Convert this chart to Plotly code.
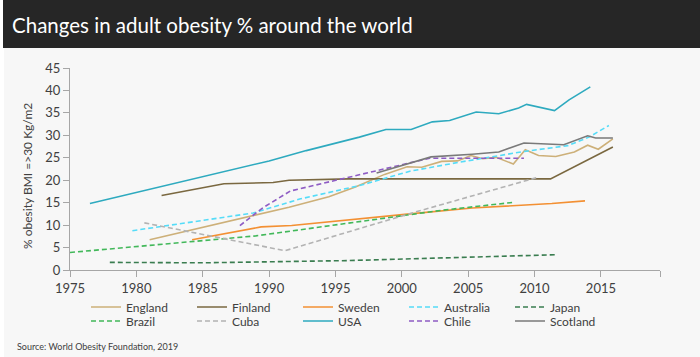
import plotly.graph_objects as go

# ---- data ----
england_x = [1981, 1991.5, 1994.5, 1996.5, 1998.7, 2000.4, 2001.5, 2003, 2004.2, 2005.2, 2006.1, 2007.1, 2008.4, 2009.3, 2010.3, 2011.6, 2013, 2014, 2014.8, 2015.9]
england_y = [6.75, 14.0, 16.3, 18.5, 21.3, 23.0, 22.9, 24.2, 24.3, 25.5, 24.8, 25.1, 23.6, 26.8, 25.5, 25.3, 26.3, 27.8, 26.9, 29.2]

finland_x = [1981.9, 1986.6, 1990.3, 1991.5, 1996, 2011.2, 2015.9]
finland_y = [16.6, 19.2, 19.5, 20.0, 20.3, 20.3, 27.4]

sweden_x = [1984.2, 1989.4, 1991.7, 1996.8, 2000.6, 2005.3, 2011.3, 2013.8]
sweden_y = [6.75, 9.6, 9.9, 11.3, 12.5, 13.8, 14.8, 15.4]

australia_x = [1979.7, 1981.8, 1988.8, 1992.3, 1996.8, 2000.6, 2004.3, 2009.2, 2012.5, 2014.1, 2015.6]
australia_y = [8.75, 9.7, 12.7, 15.8, 18.8, 22.0, 24.0, 26.4, 27.7, 29.6, 32.2]

japan_x = [1978, 1985, 1996, 2011.6]
japan_y = [1.7, 1.6, 2.1, 3.4]

brazil_x = [1975, 1989, 2003, 2008.5]
brazil_y = [3.9, 7.6, 13.3, 15.1]

cuba_x = [1980.6, 1991.2, 2001, 2010.3]
cuba_y = [10.5, 4.3, 12.9, 20.7]

usa_x = [1976.5, 1983.8, 1986.8, 1990, 1992.8, 1996.8, 1998.8, 2000.7, 2002.3, 2003.6, 2005.6, 2007.3, 2008.8, 2009.4, 2011.5, 2012.6, 2014.2]
usa_y = [14.8, 19.9, 22.1, 24.3, 26.6, 29.6, 31.3, 31.3, 33.0, 33.3, 35.2, 34.8, 36.1, 36.9, 35.5, 37.9, 40.8]

chile_x = [1987.8, 1989.5, 1991.6, 2002.1, 2009.2]
chile_y = [9.9, 13.8, 17.6, 24.9, 24.9]

scotland_x = [1998.1, 2002.2, 2005.3, 2007.3, 2009.2, 2012.2, 2014, 2014.6, 2015.9]
scotland_y = [21.6, 25.2, 25.8, 26.3, 28.3, 27.9, 29.9, 29.4, 29.4]

x_ticks = [1975, 1980, 1985, 1990, 1995, 2000, 2005, 2010, 2015]
y_ticks = [0, 5, 10, 15, 20, 25, 30, 35, 40, 45]

# ---- styling ----
W, H = 700, 357
ML, MR, MT, MB = 70, 40, 68, 87
PW, PH = W - ML - MR, H - MT - MB

def px_x(p):
    return (p - ML) / PW

def px_y(p):
    return (H - MB - p) / PH

FONT = "Lato"
series = [
    ("England", england_x, england_y, "#cdb079", "solid", "legend"),
    ("Finland", finland_x, finland_y, "#7a6840", "solid", "legend"),
    ("Sweden", sweden_x, sweden_y, "#f39033", "solid", "legend"),
    ("Australia", australia_x, australia_y, "#55dcf8", "dash", "legend"),
    ("Japan", japan_x, japan_y, "#3a7d50", "dash", "legend"),
    ("Brazil", brazil_x, brazil_y, "#42b85a", "dash", "legend2"),
    ("Cuba", cuba_x, cuba_y, "#b3b3b3", "dash", "legend2"),
    ("USA", usa_x, usa_y, "#2eaabf", "solid", "legend2"),
    ("Chile", chile_x, chile_y, "#8e5cc4", "dash", "legend2"),
    ("Scotland", scotland_x, scotland_y, "#7a7a7a", "solid", "legend2"),
]

fig = go.Figure()
for name, xs, ys, col, dash, leg in series:
    fig.add_trace(go.Scatter(
        x=xs, y=ys, name=name, mode="lines", legend=leg,
        line=dict(color=col, width=1.6, dash="5px,3px" if dash == "dash" else "solid"),
    ))

axis_col = "#a6a6a6"
tick_font = dict(family=FONT, size=13, color="#404040")
legend_common = dict(
    orientation="h", xanchor="left", yanchor="middle",
    entrywidth=61, entrywidthmode="pixels",
    font=dict(family=FONT, size=12, color="#404040"),
    bgcolor="rgba(0,0,0,0)", itemwidth=30, traceorder="normal",
)

fig.update_layout(
    width=W, height=H,
    margin=dict(l=ML, r=MR, t=MT, b=MB, pad=0),
    paper_bgcolor="#f7f7f7", plot_bgcolor="#f7f7f7",
    showlegend=True,
    legend=dict(x=px_x(86), y=px_y(307), **legend_common),
    legend2=dict(x=px_x(86), y=px_y(321), **legend_common),
    xaxis=dict(
        range=[1975, 2019.45], tickvals=x_ticks + [2019.45],
        ticktext=[str(t) for t in x_ticks] + [""],
        showline=True, linecolor=axis_col, linewidth=1,
        ticks="outside", ticklen=6, tickcolor=axis_col,
        showgrid=False, zeroline=False, tickfont=tick_font,
    ),
    yaxis=dict(
        range=[0, 45], tickvals=y_ticks,
        showline=True, linecolor=axis_col, linewidth=1,
        ticks="outside", ticklen=6, tickcolor=axis_col,
        showgrid=False, zeroline=False, tickfont=tick_font,
    ),
    shapes=[
        dict(type="rect", xref="paper", yref="paper",
             x0=px_x(3), x1=px_x(705), y0=px_y(48), y1=px_y(-5),
             fillcolor="#262626", line=dict(width=0), layer="above"),
        dict(type="rect", xref="paper", yref="paper",
             x0=px_x(-5), x1=px_x(4), y0=px_y(362), y1=px_y(48),
             fillcolor="#ffffff", line=dict(width=0), layer="above"),
        dict(type="rect", xref="paper", yref="paper",
             x0=px_x(-5), x1=px_x(3), y0=px_y(48), y1=px_y(-5),
             fillcolor="#ffffff", line=dict(width=0), layer="above"),
    ],
    annotations=[
        dict(text="Changes in adult obesity % around the world", xref="paper", yref="paper",
             x=px_x(10), y=px_y(25), xanchor="left", yanchor="middle", showarrow=False,
             font=dict(family=FONT, size=20.5, color="#ffffff")),
        dict(text="% obesity BMI =>30 Kg/m2", xref="paper", yref="paper",
             x=px_x(27), y=px_y(176), xanchor="center", yanchor="middle", showarrow=False,
             textangle=-90, font=dict(family=FONT, size=12, color="#404040")),
        dict(text="Source: World Obesity Foundation, 2019", xref="paper", yref="paper",
             x=px_x(15), y=px_y(346), xanchor="left", yanchor="middle", showarrow=False,
             font=dict(family=FONT, size=9, color="#404040")),
    ],
)

fig.write_html("out.html", config={"displayModeBar": False},
               post_script="document.body.style.margin='0';")
